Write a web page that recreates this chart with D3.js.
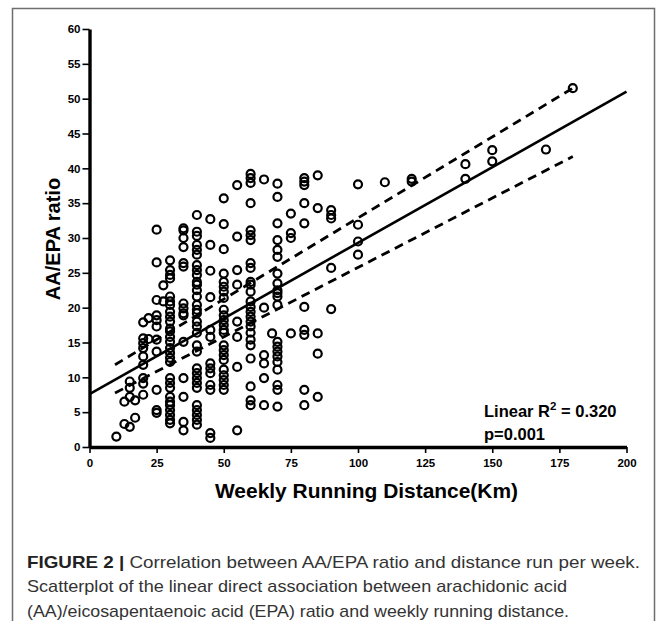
<!DOCTYPE html>
<html>
  <head>
    <meta charset="utf-8"/>
    <title>AA/EPA ratio vs weekly running distance</title>
    <style>
      body { margin: 0; background: #fff; }
      .axis path, .axis line { stroke: #000; }
      .axis .domain { stroke-width: 3.4px; }
      .axis .tick line { stroke-width: 1.6px; }
      .axis text { font-family: "Liberation Sans", Arial, sans-serif; font-weight: bold; font-size: 11.5px; fill: #000; }
      .dot { fill: none; stroke: #000; stroke-width: 2.2px; }
    </style>
    <script src="https://d3js.org/d3.v7.min.js"></script>
  </head>
  <body>
    <svg id="chart" width="667" height="621"></svg>
    <script>
      // weekly distance (km) columns and the AA/EPA ratios read at each one
      var distances = [10, 13, 15, 17, 20, 22, 25, 27.5, 30, 35, 40, 45, 50, 55, 60, 65, 68, 70, 75, 80, 85, 90, 100, 110, 120, 140, 150, 170, 180];
      var ratios = [
        [1.5],
        [3.3, 6.5],
        [2.9, 7.2, 8.5, 9.4],
        [4.2, 6.7],
        [7.5, 9.1, 9.9, 11.8, 13.0, 14.2, 14.9, 15.6, 17.9],
        [15.5, 18.5],
        [31.2, 26.5, 21.1, 18.9, 18.2, 17.3, 15.4, 13.7, 8.2, 5.3, 4.9],
        [23.2, 20.9],
        [26.8, 25.4, 24.7, 24.2, 21.6, 20.9, 20.4, 19.4, 18.7, 18.0, 17.0, 16.6, 15.8, 15.1, 14.2, 13.5, 12.8, 12.2, 9.9, 9.2, 8.5, 7.2, 6.5, 6.0, 5.3, 4.6, 3.9, 3.4],
        [31.4, 31.1, 30.0, 28.7, 26.4, 25.9, 20.6, 19.9, 19.2, 18.9, 15.1, 9.9, 7.2, 3.6, 2.4],
        [33.3, 30.9, 30.3, 29.0, 28.3, 27.6, 26.1, 25.4, 24.7, 23.7, 23.3, 22.5, 21.6, 20.4, 19.7, 19.2, 18.0, 17.3, 16.4, 14.6, 13.7, 11.3, 10.6, 9.9, 9.2, 8.5, 6.0, 5.3, 4.6, 3.9, 3.2],
        [32.7, 29.0, 25.3, 21.5, 16.8, 15.8, 12.0, 11.3, 10.6, 8.9, 8.2, 2.0, 1.3],
        [35.7, 32.0, 28.4, 24.9, 23.7, 23.0, 22.3, 21.4, 19.7, 18.9, 18.2, 17.5, 16.8, 16.4, 14.6, 13.9, 13.2, 12.5, 11.1, 10.3, 9.6, 8.9, 8.2],
        [37.6, 30.2, 25.4, 23.3, 18.0, 15.8, 11.5, 2.4],
        [39.2, 38.6, 37.9, 35.0, 31.1, 30.4, 29.7, 26.4, 25.7, 23.7, 23.3, 22.3, 20.9, 20.1, 19.4, 18.7, 18.0, 17.3, 16.4, 15.4, 14.6, 12.7, 8.7, 6.7, 6.0],
        [38.4, 20.0, 13.2, 12.0, 9.9, 6.0],
        [16.3],
        [37.8, 35.9, 32.1, 29.7, 28.3, 27.3, 24.9, 23.5, 22.5, 22.1, 21.6, 20.4, 15.1, 14.4, 13.7, 13.0, 12.2, 11.1, 8.9, 8.2, 5.8],
        [33.5, 30.7, 30.0, 16.3],
        [38.6, 38.1, 37.6, 35.0, 32.1, 20.1, 16.8, 16.1, 8.2, 6.0],
        [39.0, 34.3, 16.3, 13.4, 7.2],
        [34.0, 33.3, 32.8, 25.7, 19.8],
        [37.7, 31.9, 29.5, 27.6],
        [38.0],
        [38.5, 38.1],
        [40.6, 38.5],
        [42.6, 41.0],
        [42.7],
        [51.5]
      ];

      // fitted line and the dashed band, as [distance, ratio] end points
      var fitLine = [[0, 7.6], [200, 51.0]];
      var upperBand = [[9.5, 11.8], [180, 51.5]];
      var lowerBand = [[9.5, 7.75], [180, 41.7]];

      var xTicks = [0, 25, 50, 75, 100, 125, 150, 175, 200];
      var yTicks = [0, 5, 10, 15, 20, 25, 30, 35, 40, 45, 50, 55, 60];

      var captionLines = [
        "Correlation between AA/EPA ratio and distance run per week.",
        "Scatterplot of the linear direct association between arachidonic acid",
        "(AA)/eicosapentaenoic acid (EPA) ratio and weekly running distance."
      ];

      var svg = d3.select("#chart");

      var x = d3.scaleLinear().domain([0, 200]).range([89.5, 626.5]);
      var y = d3.scaleLinear().domain([0, 60]).range([447, 29]);

      // outer frame
      svg.append("rect")
        .attr("x", 12.5).attr("y", 8.5)
        .attr("width", 642).attr("height", 640)
        .attr("fill", "none")
        .attr("stroke", "#6e6e6e")
        .attr("stroke-width", 1.5);

      var points = [];
      distances.forEach(function(d, i) {
        ratios[i].forEach(function(r) { points.push({km: d, ratio: r}); });
      });

      svg.selectAll(".dot")
        .data(points)
        .enter().append("circle")
        .attr("class", "dot")
        .attr("cx", function(d) { return x(d.km); })
        .attr("cy", function(d) { return y(d.ratio); })
        .attr("r", 4);

      var line = d3.line()
        .x(function(d) { return x(d[0]); })
        .y(function(d) { return y(d[1]); });

      svg.append("path").attr("d", line(fitLine))
        .attr("fill", "none").attr("stroke", "#000").attr("stroke-width", 2.6);

      [upperBand, lowerBand].forEach(function(b) {
        svg.append("path").attr("d", line(b))
          .attr("fill", "none").attr("stroke", "#000")
          .attr("stroke-width", 2.8)
          .attr("stroke-dasharray", "9,6");
      });

      svg.append("g")
        .attr("class", "axis")
        .attr("transform", "translate(0," + y(0) + ")")
        .call(d3.axisBottom(x).tickValues(xTicks).tickSize(6).tickSizeOuter(0).tickPadding(6));

      svg.append("g")
        .attr("class", "axis")
        .attr("transform", "translate(" + x(0) + ",0)")
        .call(d3.axisLeft(y).tickValues(yTicks).tickSize(7).tickSizeOuter(0).tickPadding(2));

      // axis titles
      svg.append("text")
        .attr("transform", "translate(60,239) rotate(-90)")
        .attr("text-anchor", "middle")
        .style("font-family", "'Liberation Sans', Arial, sans-serif")
        .style("font-weight", "bold")
        .style("font-size", "20px")
        .text("AA/EPA ratio");

      svg.append("text")
        .attr("x", 366.5).attr("y", 498)
        .attr("text-anchor", "middle")
        .attr("textLength", 303)
        .attr("lengthAdjust", "spacingAndGlyphs")
        .style("font-family", "'Liberation Sans', Arial, sans-serif")
        .style("font-weight", "bold")
        .style("font-size", "20.5px")
        .text("Weekly Running Distance(Km)");

      // fit annotation
      var note = svg.append("text")
        .attr("x", 484).attr("y", 417)
        .style("font-family", "'Liberation Sans', Arial, sans-serif")
        .style("font-weight", "bold")
        .style("font-size", "16.5px");
      note.append("tspan").text("Linear R");
      note.append("tspan").attr("dy", -7).style("font-size", "11.5px").text("2");
      note.append("tspan").attr("dy", 7).text(" = 0.320");

      svg.append("text")
        .attr("x", 484).attr("y", 440)
        .style("font-family", "'Liberation Sans', Arial, sans-serif")
        .style("font-weight", "bold")
        .style("font-size", "16.5px")
        .text("p=0.001");

      // caption
      var capWidths = [613, 540, 542];
      var capY = [568, 592, 617];
      captionLines.forEach(function(t, i) {
        var c = svg.append("text")
          .attr("x", 27).attr("y", capY[i])
          .attr("textLength", capWidths[i])
          .attr("lengthAdjust", "spacingAndGlyphs")
          .style("font-family", "'Liberation Sans', Arial, sans-serif")
          .style("font-size", "17px")
          .style("fill", "#333");
        if (i === 0) {
          c.append("tspan").style("font-weight", "bold").style("fill", "#222").text("FIGURE 2 | ");
        }
        c.append("tspan").text(t);
      });
    </script>
  </body>
</html>
